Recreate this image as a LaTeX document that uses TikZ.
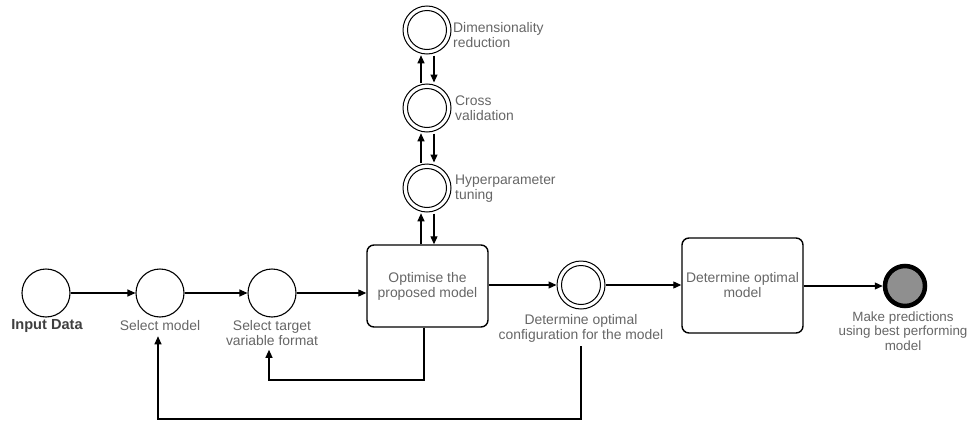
\documentclass[tikz,border=0pt]{standalone}
\usepackage{fontspec}
\setmainfont{Liberation Sans}
\usetikzlibrary{arrows.meta}
\definecolor{txt}{HTML}{666666}
\definecolor{txtd}{HTML}{3F3F3F}
\definecolor{endfill}{HTML}{8F8F8F}
\begin{document}
\begin{tikzpicture}[x=1pt,y=-1pt,
  every node/.style={font=\fontsize{13.9}{15}\selectfont, text=txt},
  ev/.style={circle, draw=black, line width=1.1pt, minimum size=48pt, inner sep=0pt, fill=white},
  dev/.style={ev, line width=1pt, path picture={\draw[line width=1pt] (path picture bounding box.center) circle (19.5pt);}},
  endev/.style={circle, draw=black, line width=4.5pt, minimum size=40pt, inner sep=0pt, fill=endfill},
  task/.style={rectangle, rounded corners=7pt, draw=black, line width=1.4pt, align=center, inner sep=0pt},
  lbl/.style={align=center, inner sep=0pt},
  lbll/.style={align=left, inner sep=0pt, anchor=west},
  arr/.style={draw=black, line width=1.1pt, -{Triangle[length=8pt,width=7pt]}},
  ln/.style={draw=black, line width=1.1pt}]
\useasboundingbox (0,0) rectangle (969,423);
% nodes
\node[ev] (in) at (46,293) {};
\node[ev] (sm) at (160,293) {};
\node[ev] (st) at (272,293) {};
\node[task, minimum width=121pt, minimum height=82pt] (opt) at (427.5,286) {Optimise the\\proposed model};
\node[dev] (cfg) at (581,285) {};
\node[task, minimum width=121pt, minimum height=95pt] (det) at (742.5,285.5) {Determine optimal\\model};
\node[endev] (end) at (905,286) {};
\node[dev] (hyp) at (427,188) {};
\node[dev] (cv) at (427,108) {};
\node[dev] (dim) at (427,30) {};
% labels
\node[lbl, text=txtd, font=\fontsize{14.6}{15}\selectfont\bfseries] (inl) at (47,326) {Input Data};
\node[lbl] (sml) at (160,326) {Select model};
\node[lbl] (stl) at (272,333) {Select target\\variable format};
\node[lbl] (cfgl) at (581,328) {Determine optimal\\configuration for the model};
\node[lbl, font=\fontsize{13.4}{14.5}\selectfont] (endl) at (903,331) {Make predictions\\using best performing\\model};
\node[lbll] (diml) at (453,35) {Dimensionality\\reduction};
\node[lbll] (cvl) at (455,108) {Cross\\validation};
\node[lbll] (hypl) at (455,189) {Hyperparameter\\tuning};
% main flow
\draw[arr] (in) -- (sm);
\draw[arr] (sm) -- (st);
\draw[arr] (st.east) -- (st.east -| opt.west);
\draw[arr] (opt.east |- cfg) -- (cfg.west);
\draw[arr] (cfg.east) -- (cfg.east -| det.west);
\draw[arr] (det.east |- end) -- (end.west);
% vertical stack
\draw[arr] ([xshift=-6pt]hyp.south |- opt.north) -- ([xshift=-6pt,yshift=-0.8pt]hyp.south);
\draw[arr] ([xshift=7pt,yshift=-1pt]hyp.south) -- ([xshift=7pt]hyp.south |- opt.north);
\draw[arr] ([xshift=-6pt,yshift=0.8pt]hyp.north) -- ([xshift=-6pt,yshift=-0.8pt]cv.south);
\draw[arr] ([xshift=7pt,yshift=-1pt]cv.south) -- ([xshift=7pt,yshift=1pt]hyp.north);
\draw[arr] ([xshift=-6pt,yshift=0.8pt]cv.north) -- ([xshift=-6pt,yshift=-0.8pt]dim.south);
\draw[arr] ([xshift=7pt,yshift=-1pt]dim.south) -- ([xshift=7pt,yshift=1pt]cv.north);
% loops
\coordinate (l1) at (424,380);
\coordinate (l2) at (269,380);
\draw[arr] (l1 |- opt.south) -- (l1) -- (l2) -- ([yshift=-4pt]l2 |- stl.south);
\coordinate (m1) at (581,419);
\coordinate (m2) at (158,419);
\draw[arr] ([yshift=-4pt]cfgl.south) -- (m1) -- (m2) -- ([yshift=-5pt]m2 |- sml.south);
\end{tikzpicture}
\end{document}
